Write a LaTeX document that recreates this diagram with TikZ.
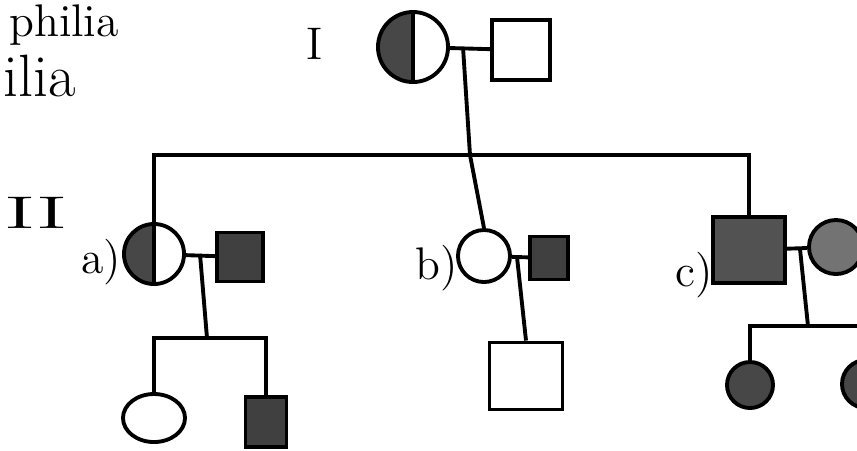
\documentclass[tikz,border=0pt]{standalone}
\usetikzlibrary{shapes.geometric}
\begin{document}
\begin{tikzpicture}[x=0.01cm, y=-0.01cm, line width=1.1pt,
  fem/.style = {draw, circle, inner sep=0pt},
  male/.style = {draw, rectangle, inner sep=0pt},
  carrier/.style = {path picture={\fill[black!72] (path picture bounding box.south west) rectangle (path picture bounding box.north); \draw (path picture bounding box.south) -- (path picture bounding box.north);}},
  aff/.style = {fill=black!75},
  lbl/.style = {inner sep=0pt, font=\fontsize{13}{15}\selectfont}]
  \useasboundingbox (0,0) rectangle (857,450);
  \clip (0,0) rectangle (857,450);
  \node[lbl] (t1) at (64,25) {philia};
  \node[lbl, font=\fontsize{17}{19}\selectfont] (t2) at (40,76) {ilia};
  \node[lbl] (g1) at (315,44) {I};
  \node[lbl, xscale=1.8] (g2) at (36,213) {II};
  \node[fem, carrier, minimum size=0.70cm] (I1) at (413,47) {};
  \node[male, minimum width=0.58cm, minimum height=0.60cm] (I2) at (521,50) {};
  \node[fem, carrier, minimum size=0.60cm] (II1) at (154,254) {};
  \node[male, aff, minimum width=0.46cm, minimum height=0.49cm] (II2) at (240,257) {};
  \node[fem, minimum size=0.52cm] (II3) at (484,256) {};
  \node[male, aff, minimum width=0.38cm, minimum height=0.43cm] (II4) at (549,258) {};
  \node[male, fill=black!68, minimum width=0.72cm, minimum height=0.66cm] (II5) at (749,250) {};
  \node[fem, fill=black!55, minimum size=0.54cm] (II6) at (836,247) {};
  \node[lbl] (la) at (101,262) {a)};
  \node[lbl] (lb) at (437,268) {b)};
  \node[lbl] (lc) at (694,275) {c)};
  \node[draw, ellipse, inner sep=0pt, minimum width=0.62cm, minimum height=0.48cm] (III1) at (154,418) {};
  \node[male, aff, minimum width=0.41cm, minimum height=0.50cm] (III2) at (266,422) {};
  \node[male, minimum width=0.73cm, minimum height=0.67cm] (III3) at (526,376) {};
  \node[fem, fill=black!72, minimum size=0.46cm] (III4) at (750,385) {};
  \node[fem, fill=black!72, minimum size=0.48cm] (III5) at (866,384) {};
  \coordinate (m1) at (463,47);
  \coordinate (s1) at (470,155);
  \coordinate (m2) at (200,254);
  \coordinate (s2) at (207,338);
  \coordinate (m3) at (517,257);
  \coordinate (m4) at (800,249);
  \coordinate (s4) at (808,326);
  \draw (I1) to (I2);
  \draw (m1) to (s1);
  \draw (II1.north) |- (s1) -| (II5.north);
  \draw (s1) to (II3.north);
  \draw (II1) to (II2);
  \draw (m2) to (s2);
  \draw (III1.north) |- (s2) -| (III2.north);
  \draw (II3) to (II4);
  \draw (m3) to (III3.north);
  \draw (II5) to (II6);
  \draw (m4) to (s4);
  \draw (III4.north) |- (s4) -| (III5.north);
\end{tikzpicture}
\end{document}
